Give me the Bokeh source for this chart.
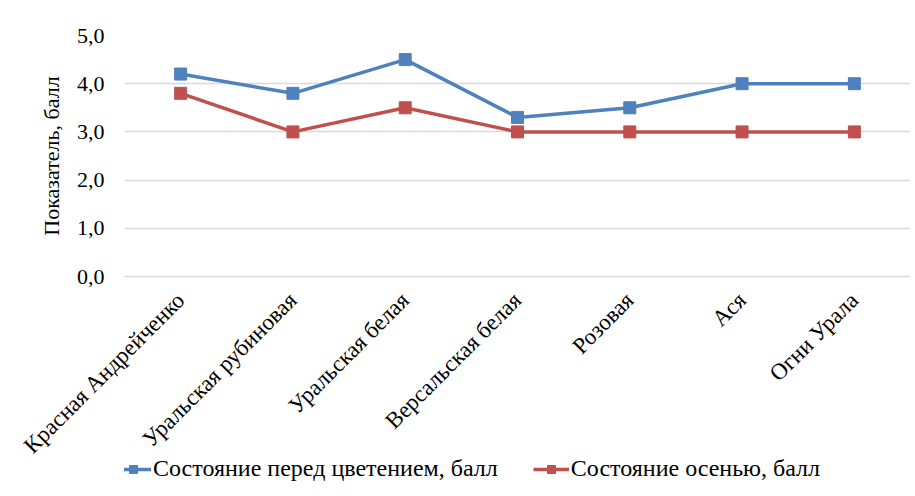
from bokeh.plotting import figure
from bokeh.models import Legend, LegendItem, CustomJSTickFormatter, FixedTicker
from bokeh.layouts import column
from bokeh.embed import file_html
from bokeh.resources import INLINE
import math

categories = ["Красная Андрейченко", "Уральская рубиновая", "Уральская белая",
              "Версальская белая", "Розовая", "Ася", "Огни Урала"]
before_bloom = [4.2, 3.8, 4.5, 3.3, 3.5, 4.0, 4.0]
autumn = [3.8, 3.0, 3.5, 3.0, 3.0, 3.0, 3.0]
series_names = ["Состояние перед цветением, балл", "Состояние осенью, балл"]
y_ticks = [0, 1, 2, 3, 4, 5]

FONT = "'Liberation Serif', 'Times New Roman', serif"
BLUE = "#4F81BD"
RED = "#C0504D"
GRID = "#D9D9D9"

p = figure(x_range=categories, y_range=(0, 5), width=910, height=470,
           output_backend="svg", toolbar_location=None,
           min_border_left=124, min_border_right=0, min_border_top=35,
           min_border_bottom=194)
p.x_range.range_padding = 0
p.outline_line_color = None
p.xgrid.grid_line_color = None
p.ygrid.grid_line_color = GRID
p.ygrid.grid_line_width = 1.5

p.yaxis.ticker = FixedTicker(ticks=y_ticks)
p.yaxis.formatter = CustomJSTickFormatter(code="return tick.toFixed(1).replace('.', ',');")
p.yaxis.axis_line_color = None
p.yaxis.major_tick_line_color = None
p.yaxis.minor_tick_line_color = None
p.yaxis.major_label_text_font = FONT
p.yaxis.major_label_text_font_size = "22px"
p.yaxis.major_label_text_color = "#000000"
p.yaxis.major_label_standoff = 14
p.yaxis.axis_label = "Показатель, балл"
p.yaxis.axis_label_text_font = FONT
p.yaxis.axis_label_text_font_size = "22px"
p.yaxis.axis_label_text_font_style = "normal"
p.yaxis.axis_label_text_color = "#000000"
p.yaxis.axis_label_standoff = 10

p.xaxis.axis_line_color = GRID
p.xaxis.axis_line_width = 1.5
p.xaxis.major_tick_line_color = None
p.xaxis.minor_tick_line_color = None
p.xaxis.major_label_orientation = math.pi / 4
p.xaxis.major_label_text_font = FONT
p.xaxis.major_label_text_font_size = "23px"
p.xaxis.major_label_text_color = "#000000"
p.xaxis.major_label_standoff = 14

p.line(categories, before_bloom, line_color=BLUE, line_width=3.5)
p.scatter(categories, before_bloom, marker="square", size=12,
          fill_color=BLUE, line_color=BLUE)
p.line(categories, autumn, line_color=RED, line_width=3.5)
p.scatter(categories, autumn, marker="square", size=12,
          fill_color=RED, line_color=RED)

# legend strip below the chart (dummy renderers lie outside the visible range)
lf = figure(width=910, height=26, x_range=(0, 1), y_range=(0, 1),
            output_backend="svg", toolbar_location=None,
            min_border=0, min_border_left=0, min_border_right=0,
            min_border_top=0, min_border_bottom=0)
lf.styles = {"margin-top": "-14px"}
lf.axis.visible = False
lf.grid.visible = False
lf.outline_line_color = None
d1 = lf.line([5, 6], [5, 6], line_color=BLUE, line_width=3.5)
e1 = lf.scatter([5], [5], marker="square", size=12, fill_color=BLUE, line_color=BLUE)
d2 = lf.line([5, 6], [5, 6], line_color=RED, line_width=3.5)
e2 = lf.scatter([5], [5], marker="square", size=12, fill_color=RED, line_color=RED)

legend = Legend(items=[LegendItem(label=series_names[0], renderers=[d1, e1]),
                       LegendItem(label=series_names[1], renderers=[d2, e2])],
                orientation="horizontal", location=(-9, 0))
legend.label_text_font = FONT
legend.label_text_font_size = "24px"
legend.label_text_color = "#000000"
legend.glyph_width = 36
legend.glyph_height = 20
legend.label_standoff = 2
legend.spacing = 35
legend.padding = 0
legend.margin = 0
legend.border_line_color = None
legend.background_fill_alpha = 0
lf.add_layout(legend, "center")

open("out.html", "w").write(file_html(column(p, lf, spacing=0), INLINE))
